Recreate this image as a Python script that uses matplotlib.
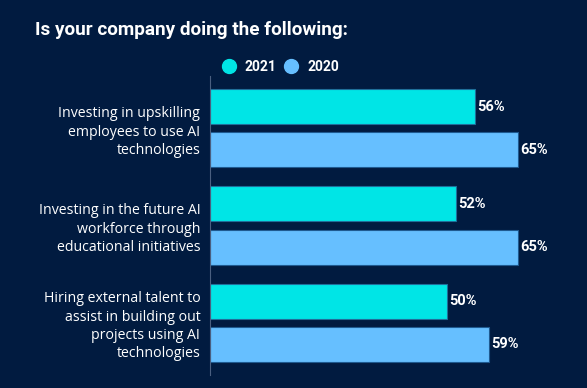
import matplotlib
matplotlib.use("Agg")
import matplotlib.pyplot as plt
from matplotlib.lines import Line2D
import numpy as np

categories = [
    "Investing in upskilling\nemployees to use AI\ntechnologies",
    "Investing in the future AI\nworkforce through\neducational initiatives",
    "Hiring external talent to\nassist in building out\nprojects using AI\ntechnologies",
]
series_names = ["2021", "2020"]
values_2021 = [56, 52, 50]
values_2020 = [65, 65, 59]

bg = "#011b40"
c2021 = "#00e5e6"
c2020 = "#66bfff"

fig = plt.figure(figsize=(5.87, 3.88), dpi=100, facecolor=bg)
ax = fig.add_axes([210/587, 1-375/388, 1-210/587-0.01, (375-76)/388])
ax.set_facecolor(bg)

y = np.arange(len(categories))
off = 0.222
h = 0.36
b1 = ax.barh(y - off, values_2021, height=h, color=c2021, edgecolor="#1f6f9a", linewidth=0.8)
b2 = ax.barh(y + off, values_2020, height=h, color=c2020, edgecolor="#1f5a90", linewidth=0.8)

for bars, vals in ((b1, values_2021), (b2, values_2020)):
    for rect, v in zip(bars, vals):
        ax.annotate(f"{v}%", (rect.get_width(), rect.get_y() + rect.get_height()/2),
                    xytext=(1.5, 0), textcoords="offset points", va="center", ha="left",
                    color="white", fontsize=10.5, fontweight="bold", family="Roboto")

ax.set_xlim(0, 78.4)
ax.set_ylim(2.54, -0.54)
ax.set_yticks(y)
ax.set_yticklabels(categories, fontsize=10.2, color="white", family="Open Sans", linespacing=1.3)
ax.tick_params(axis="y", length=0, pad=7)
ax.set_xticks([])
for s in ["top", "right", "bottom"]:
    ax.spines[s].set_visible(False)
ax.spines["left"].set_color("#4a5f80")
ax.spines["left"].set_linewidth(0.8)

fig.text(35/587, 1-35/388, "Is your company doing the following:", color="white",
         fontsize=13.6, fontweight="bold", family="Roboto", ha="left", va="baseline")

handles = [Line2D([], [], marker="o", linestyle="", markersize=10, color=c) for c in (c2021, c2020)]
fig.legend(handles, series_names, loc="center", bbox_to_anchor=(277/587, 1-67/388), ncol=2,
           frameon=False, handletextpad=0.15, columnspacing=0.05,
           prop={"family": "Roboto", "weight": "bold", "size": 10}, labelcolor="white")

fig.savefig("out.png", dpi=100, facecolor=bg)
